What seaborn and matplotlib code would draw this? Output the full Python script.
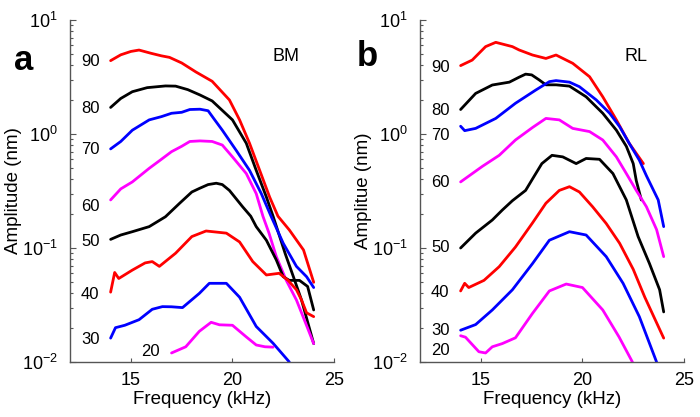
import matplotlib
matplotlib.use("Agg")
import matplotlib.pyplot as plt
import seaborn as sns
import numpy as np
from matplotlib.ticker import LogLocator, NullFormatter

# ---- data: panel a (BM) ----
a90_f = [14.0, 14.5, 15.0, 15.4, 16.0, 16.5, 16.9, 17.5, 18.2, 19.0, 19.85, 20.35, 20.84, 21.34, 21.83, 22.24, 22.8, 23.5, 24.0]
a90_amp = [4.4, 4.95, 5.3, 5.45, 5.1, 4.85, 4.7, 4.2, 3.5, 2.9, 1.99, 1.33, 0.83, 0.48, 0.28, 0.19, 0.144, 0.096, 0.05]
a80_f = [14.0, 14.5, 15.07, 15.8, 16.7, 17.2, 17.8, 18.4, 19.0, 20.0, 20.68, 21.17, 21.67, 22.0, 22.6, 23.0, 23.4, 24.0]
a80_amp = [1.71, 2.05, 2.35, 2.55, 2.64, 2.63, 2.45, 2.2, 1.95, 1.33, 0.83, 0.48, 0.28, 0.19, 0.089, 0.056, 0.035, 0.0145]
a70_f = [14.0, 14.5, 15.07, 15.9, 16.5, 17.0, 17.5, 17.9, 18.4, 18.8, 19.1, 19.5, 20.18, 20.84, 21.42, 21.9, 22.5, 23.15, 23.65, 24.0]
a70_amp = [0.74, 0.86, 1.08, 1.33, 1.42, 1.52, 1.55, 1.64, 1.65, 1.6, 1.35, 1.08, 0.72, 0.48, 0.30, 0.19, 0.11, 0.069, 0.056, 0.045]
a60_f = [14.0, 14.5, 15.07, 15.9, 16.5, 17.0, 17.5, 17.9, 18.4, 19.0, 19.5, 20.0, 20.68, 21.17, 21.5, 21.8, 22.16, 22.65, 23.15, 23.6, 24.0]
a60_amp = [0.264, 0.33, 0.38, 0.5, 0.6, 0.7, 0.78, 0.86, 0.87, 0.86, 0.8, 0.63, 0.45, 0.3, 0.19, 0.135, 0.084, 0.052, 0.035, 0.022, 0.0145]
a50_f = [14.0, 14.5, 15.07, 15.9, 16.7, 17.4, 18.0, 18.37, 18.8, 19.2, 19.5, 19.85, 20.5, 20.9, 21.17, 21.67, 22.16, 22.5, 22.8, 23.3, 23.7, 24.0]
a50_amp = [0.119, 0.13, 0.139, 0.154, 0.188, 0.247, 0.31, 0.333, 0.36, 0.37, 0.36, 0.32, 0.23, 0.19, 0.154, 0.117, 0.0785, 0.056, 0.052, 0.052, 0.046, 0.0286]
a40_f = [14.0, 14.2, 14.4, 15.07, 15.7, 16.05, 16.4, 17.2, 18.0, 18.7, 19.7, 20.35, 21.0, 21.67, 22.3, 22.74, 23.15, 23.4, 23.65, 24.0]
a40_amp = [0.041, 0.061, 0.054, 0.064, 0.074, 0.076, 0.069, 0.09, 0.126, 0.141, 0.135, 0.113, 0.076, 0.058, 0.06, 0.052, 0.043, 0.035, 0.027, 0.025]
a30_f = [14.0, 14.24, 14.7, 15.4, 16.05, 16.55, 17.0, 17.54, 18.37, 18.86, 19.7, 20.35, 21.17, 22.0, 22.8]
a30_amp = [0.0162, 0.02, 0.021, 0.0235, 0.029, 0.0306, 0.0305, 0.03, 0.04, 0.049, 0.049, 0.037, 0.0205, 0.0146, 0.01]
a20_f = [17.0, 17.7, 18.37, 18.95, 19.36, 20.0, 20.68, 21.17, 21.6, 22.0]
a20_amp = [0.012, 0.0136, 0.0186, 0.0223, 0.0212, 0.021, 0.0166, 0.0141, 0.0136, 0.0135]

# ---- data: panel b (RL) ----
b90_f = [14.0, 14.57, 15.23, 15.73, 16.55, 16.88, 17.54, 18.2, 18.7, 19.52, 20.35, 21.0, 21.67, 22.3, 23.0]
b90_amp = [3.98, 4.45, 5.84, 6.37, 5.84, 5.46, 4.93, 4.6, 4.93, 4.17, 3.18, 2.12, 1.33, 0.83, 0.55]
b80_f = [14.0, 14.74, 15.56, 16.4, 16.88, 17.2, 17.5, 17.87, 18.2, 18.7, 19.36, 20.18, 21.0, 21.67, 22.16, 22.5, 22.65, 22.9]
b80_amp = [1.64, 2.27, 2.69, 2.85, 3.15, 3.35, 3.3, 2.98, 2.7, 2.7, 2.63, 2.12, 1.52, 1.08, 0.78, 0.55, 0.39, 0.264]
b70_f = [14.0, 14.2, 14.74, 15.73, 16.7, 17.7, 18.37, 18.7, 19.36, 19.85, 20.68, 21.34, 21.83, 22.3, 22.8, 23.15, 23.73, 24.0]
b70_amp = [1.17, 1.07, 1.12, 1.37, 1.86, 2.43, 2.88, 2.94, 2.85, 2.6, 1.99, 1.52, 1.16, 0.83, 0.59, 0.43, 0.264, 0.154]
b60_f = [14.0, 15.07, 15.9, 16.7, 17.54, 18.2, 18.86, 19.52, 20.35, 21.0, 21.67, 22.16, 22.65, 23.15, 23.65, 24.0]
b60_amp = [0.38, 0.52, 0.65, 0.886, 1.14, 1.37, 1.33, 1.12, 1.05, 0.886, 0.63, 0.45, 0.32, 0.23, 0.145, 0.084]
b50_f = [14.0, 14.74, 15.56, 16.05, 16.55, 17.2, 17.6, 18.0, 18.5, 19.03, 19.69, 20.18, 20.84, 21.5, 22.16, 22.74, 23.3, 23.8, 24.0]
b50_amp = [0.1, 0.135, 0.176, 0.215, 0.26, 0.32, 0.42, 0.55, 0.65, 0.63, 0.55, 0.61, 0.6, 0.45, 0.264, 0.126, 0.073, 0.043, 0.0275]
b40_f = [14.0, 14.2, 14.4, 15.15, 15.9, 16.7, 17.54, 18.2, 18.86, 19.36, 19.85, 20.5, 21.17, 21.83, 22.5, 23.07, 24.0]
b40_amp = [0.042, 0.049, 0.045, 0.052, 0.0686, 0.102, 0.166, 0.247, 0.32, 0.345, 0.31, 0.23, 0.164, 0.11, 0.065, 0.037, 0.0162]
b30_f = [14.0, 14.74, 15.56, 16.55, 17.54, 18.37, 19.36, 20.18, 21.17, 22.0, 22.8, 23.65]
b30_amp = [0.019, 0.0213, 0.0286, 0.043, 0.073, 0.117, 0.139, 0.13, 0.084, 0.049, 0.025, 0.01]
b20_f = [14.0, 14.24, 14.9, 15.23, 15.56, 16.05, 16.7, 17.54, 18.37, 19.2, 20.0, 21.0, 21.8, 22.46]
b20_amp = [0.017, 0.0165, 0.0123, 0.012, 0.0136, 0.0145, 0.0163, 0.0267, 0.042, 0.0483, 0.045, 0.0286, 0.0166, 0.01]

levels = ["90", "80", "70", "60", "50", "40", "30", "20"]
colors = ["#ff0000", "#000000", "#0000ff", "#ff00ff", "#000000", "#ff0000", "#0000ff", "#ff00ff"]

curves_a = [(a90_f, a90_amp), (a80_f, a80_amp), (a70_f, a70_amp), (a60_f, a60_amp),
            (a50_f, a50_amp), (a40_f, a40_amp), (a30_f, a30_amp), (a20_f, a20_amp)]
curves_b = [(b90_f, b90_amp), (b80_f, b80_amp), (b70_f, b70_amp), (b60_f, b60_amp),
            (b50_f, b50_amp), (b40_f, b40_amp), (b30_f, b30_amp), (b20_f, b20_amp)]

# level label positions (x, y in data units)
label_pos_a = [(13.0, 4.29), (13.0, 1.69), (13.0, 0.724), (13.0, 0.229),
               (13.0, 0.115), (13.0, 0.0394), (13.0, 0.0159), (15.96, 0.0123)]
label_pos_b = [(13.0, 3.87), (13.0, 1.62), (13.0, 0.98), (13.0, 0.372),
               (13.0, 0.1), (13.0, 0.041), (13.0, 0.019), (13.0, 0.0127)]

sns.set_style("ticks")
plt.rcParams['font.family'] = ['Liberation Sans', 'DejaVu Sans']
plt.rcParams['xtick.direction'] = 'in'
plt.rcParams['ytick.direction'] = 'in'
plt.rcParams['text.color'] = 'black'
plt.rcParams['axes.labelcolor'] = 'black'
plt.rcParams['xtick.labelcolor'] = 'black'
plt.rcParams['ytick.labelcolor'] = 'black'

fig = plt.figure(figsize=(7, 4.17), dpi=100)
ax_a = fig.add_axes([70/700, 55/417, 264/700, 342/417])
ax_b = fig.add_axes([420/700, 55/417, 264/700, 342/417])

axis_grey = "#555555"

def draw_panel(ax, curves, label_pos, tag, ylabel):
    for (f, amp), c in zip(curves, colors):
        sns.lineplot(x=f, y=amp, ax=ax, color=c, linewidth=2.0, sort=False)
    ax.set_yscale("log")
    ax.set_xlim(12, 25)
    ax.set_ylim(0.01, 10)
    ax.set_xticks([15, 20, 25])
    ax.yaxis.set_major_locator(LogLocator(base=10, numticks=10))
    ax.yaxis.set_minor_locator(LogLocator(base=10, subs=np.arange(2, 10), numticks=20))
    ax.yaxis.set_minor_formatter(NullFormatter())
    sns.despine(ax=ax)
    for s in ["left", "bottom"]:
        ax.spines[s].set_color(axis_grey)
        ax.spines[s].set_linewidth(1.0)
    ax.tick_params(axis="y", which="major", length=4, color=axis_grey, labelcolor="black", labelsize=13, pad=9)
    ax.tick_params(axis="y", which="minor", length=2.5, width=0.8, color=axis_grey)
    ax.tick_params(axis="x", which="major", length=3, color=axis_grey, labelcolor="black", labelsize=13, pad=7)
    ax.set_xlabel("Frequency (kHz)", fontsize=13.5, color="black")
    ax.set_ylabel(ylabel, fontsize=13.5, color="black")
    ax.xaxis.set_label_coords(0.5, -0.085)
    ax.yaxis.set_label_coords(-0.18, 0.5)
    for lvl, (x, y) in zip(levels, label_pos):
        ax.text(x, y, lvl, fontsize=12, ha="center", va="center", color="black")
    ax.text(0.82, 0.894, tag, transform=ax.transAxes, fontsize=13, ha="center", va="center", color="black")

draw_panel(ax_a, curves_a, label_pos_a, "BM", "Amplitude (nm)")
draw_panel(ax_b, curves_b, label_pos_b, "RL", "Amplitue (nm)")

fig.text(24/700, 1 - 70/417, "a", fontsize=25, fontweight="bold", ha="center", va="baseline", color="black")
fig.text(367/700, 1 - 66/417, "b", fontsize=25, fontweight="bold", ha="center", va="baseline", color="black")

fig.savefig("out.png", dpi=100)
